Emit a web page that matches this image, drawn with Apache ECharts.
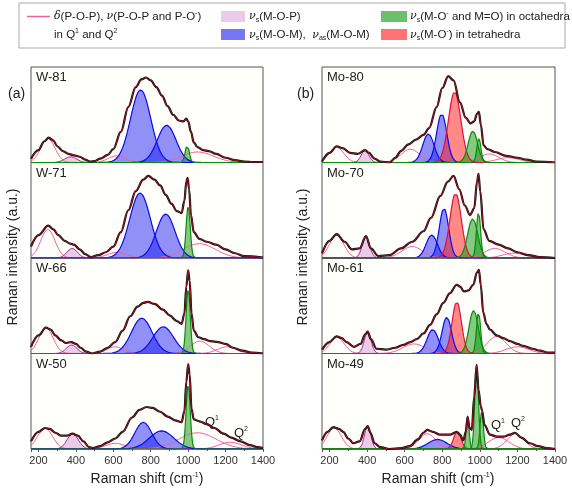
<!DOCTYPE html>
<html><head><meta charset="utf-8">
<script src="https://cdn.jsdelivr.net/npm/echarts@6/dist/echarts.min.js"></script>
<style>html,body{margin:0;padding:0;background:#fff}#c{width:572px;height:491px}</style>
</head><body><div id="c"></div>
<script>
// ---------- DATA ----------
const xMin = 160, xMax = 1400;
const sampleNames = ['W-81', 'W-71', 'W-66', 'W-50', 'Mo-80', 'Mo-70', 'Mo-61', 'Mo-49'];

// measured spectra: [Raman shift, relative intensity]
const W81_spectrum = [[160,0.04],[200,0.13],[230,0.22],[255,0.26],[280,0.23],[300,0.17],[330,0.12],[360,0.09],[390,0.075],[420,0.06],[450,0.03],[475,0.01],[500,0.015],[530,0.04],[570,0.08],[600,0.14],[640,0.32],[680,0.58],[720,0.79],[750,0.87],[775,0.89],[800,0.86],[830,0.79],[860,0.70],[890,0.59],[920,0.50],[950,0.44],[975,0.43],[990,0.46],[1000,0.43],[1015,0.32],[1030,0.21],[1050,0.16],[1080,0.13],[1110,0.12],[1150,0.09],[1200,0.05],[1250,0.025],[1300,0.01],[1350,0.005],[1400,0.005]];
const W71_spectrum = [[160,0.12],[200,0.24],[252,0.34],[280,0.30],[305,0.24],[340,0.18],[370,0.15],[390,0.14],[420,0.09],[450,0.04],[480,0.01],[520,0.03],[560,0.06],[600,0.12],[640,0.27],[680,0.50],[720,0.70],[760,0.82],[787,0.86],[820,0.82],[850,0.76],[880,0.66],[910,0.57],[940,0.49],[965,0.47],[980,0.60],[990,0.80],[997,0.84],[1005,0.72],[1015,0.45],[1030,0.27],[1060,0.20],[1100,0.17],[1150,0.14],[1200,0.09],[1250,0.05],[1300,0.02],[1400,0.005]];
const W66_spectrum = [[160,0.07],[200,0.19],[240,0.27],[265,0.25],[290,0.19],[320,0.14],[345,0.11],[375,0.12],[400,0.10],[425,0.06],[455,0.02],[485,0.0],[530,0.02],[570,0.06],[610,0.12],[650,0.24],[690,0.39],[730,0.49],[760,0.53],[785,0.54],[820,0.52],[865,0.46],[900,0.40],[940,0.34],[965,0.31],[980,0.42],[990,0.70],[1000,0.87],[1008,0.76],[1018,0.42],[1030,0.24],[1055,0.17],[1085,0.15],[1120,0.13],[1160,0.12],[1200,0.10],[1240,0.06],[1290,0.03],[1340,0.01],[1400,0.0]];
const W50_spectrum = [[160,0.08],[200,0.18],[235,0.22],[260,0.21],[290,0.17],[320,0.14],[350,0.14],[383,0.16],[410,0.14],[440,0.08],[470,0.02],[490,0.01],[530,0.03],[570,0.07],[610,0.11],[650,0.18],[700,0.33],[740,0.41],[778,0.44],[810,0.43],[850,0.39],[890,0.34],[930,0.30],[965,0.28],[980,0.40],[990,0.70],[1000,0.89],[1008,0.78],[1018,0.42],[1030,0.31],[1060,0.29],[1100,0.26],[1140,0.22],[1190,0.16],[1230,0.12],[1280,0.08],[1330,0.04],[1370,0.02],[1400,0.01]];
const Mo80_spectrum = [[160,0.01],[200,0.10],[238,0.17],[270,0.15],[310,0.10],[350,0.09],[389,0.13],[410,0.10],[440,0.04],[470,0.01],[520,0.0],[550,0.05],[580,0.12],[620,0.19],[660,0.24],[700,0.29],[730,0.36],[770,0.58],[800,0.78],[832,0.905],[860,0.86],[894,0.63],[925,0.47],[950,0.41],[970,0.43],[985,0.51],[995,0.53],[1005,0.40],[1020,0.18],[1040,0.14],[1080,0.11],[1140,0.07],[1200,0.05],[1250,0.03],[1300,0.01],[1400,0.0]];
const Mo70_spectrum = [[160,0.05],[200,0.18],[238,0.25],[280,0.17],[320,0.09],[360,0.10],[394,0.23],[420,0.10],[460,0.02],[520,0.03],[580,0.10],[640,0.17],[700,0.28],[740,0.42],[790,0.65],[830,0.80],[860,0.86],[890,0.72],[920,0.55],[948,0.45],[970,0.52],[985,0.80],[993,0.88],[1002,0.70],[1020,0.30],[1050,0.18],[1100,0.14],[1150,0.10],[1200,0.06],[1260,0.03],[1320,0.01],[1400,0.0]];
const Mo61_spectrum = [[160,0.04],[200,0.12],[238,0.18],[265,0.16],[291,0.12],[330,0.07],[365,0.10],[390,0.20],[403,0.23],[420,0.15],[450,0.05],[500,0.04],[550,0.06],[593,0.09],[630,0.12],[664,0.15],[700,0.21],[735,0.30],[770,0.41],[806,0.53],[840,0.63],[877,0.72],[895,0.70],[915,0.65],[940,0.66],[965,0.72],[985,0.85],[995,0.875],[1005,0.72],[1018,0.43],[1035,0.31],[1054,0.25],[1090,0.19],[1125,0.16],[1160,0.13],[1200,0.10],[1231,0.08],[1280,0.05],[1320,0.03],[1360,0.01],[1400,0.01]];
const Mo49_spectrum = [[160,0.09],[190,0.18],[220,0.23],[250,0.21],[273,0.18],[300,0.11],[327,0.06],[360,0.08],[390,0.21],[403,0.24],[418,0.17],[440,0.06],[470,0.02],[520,0.0],[580,0.01],[628,0.03],[670,0.10],[700,0.17],[720,0.20],[750,0.18],[788,0.15],[841,0.15],[877,0.18],[895,0.15],[912,0.09],[925,0.18],[935,0.34],[945,0.22],[957,0.20],[970,0.55],[983,0.88],[993,0.62],[1005,0.45],[1012,0.40],[1025,0.25],[1054,0.15],[1090,0.13],[1125,0.13],[1160,0.15],[1187,0.17],[1220,0.12],[1267,0.06],[1310,0.03],[1356,0.01],[1400,0.0]];

// fitted Gaussian bands: [band type, centre (cm-1), height, sigma (cm-1)]
// Q = delta(P-O-P), nu(P-O-P / P-O-) line; P = nu_s(M-O-P); B = nu(M-O-M); G = octahedra; R = tetrahedra
const W81_peaks = [['Q',250,0.25,38],['P',372,0.06,32],['Q',618,0.07,45],['B',746,0.76,54],['B',885,0.39,50],['G',995,0.18,11],['Q',1050,0.11,85]];
const W71_peaks = [['Q',250,0.30,38],['P',380,0.10,28],['Q',620,0.06,50],['B',743,0.68,55],['B',880,0.46,50],['G',1000,0.54,11],['Q',1060,0.15,85]];
const W66_peaks = [['Q',240,0.27,38],['P',377,0.09,28],['Q',610,0.07,45],['B',752,0.37,55],['B',867,0.28,55],['G',1000,0.67,11],['Q',1063,0.13,50],['Q',1206,0.07,50]];
const W50_peaks = [['Q',235,0.22,40],['P',383,0.16,30],['Q',610,0.06,50],['B',760,0.28,45],['B',858,0.19,65],['G',1000,0.67,11],['Q',1050,0.17,100],['Q',1225,0.07,60]];
const Mo80_peaks = [['Q',238,0.16,38],['P',389,0.13,20],['Q',630,0.14,50],['B',726,0.30,30],['B',797,0.51,27],['R',866,0.74,33],['G',963,0.33,25],['G',995,0.25,11],['Q',1050,0.09,50],['Q',1150,0.05,60]];
const Mo70_peaks = [['Q',238,0.24,38],['P',394,0.22,20],['Q',640,0.12,55],['B',744,0.24,30],['B',809,0.52,25],['R',871,0.68,30],['G',962,0.41,27],['G',993,0.48,11],['Q',1080,0.10,55],['Q',1180,0.05,60]];
const Mo61_peaks = [['Q',240,0.17,38],['P',403,0.23,18],['Q',650,0.10,60],['B',749,0.25,30],['B',824,0.38,25],['R',877,0.54,25],['G',967,0.45,25],['G',993,0.43,11],['Q',1090,0.18,50],['Q',1200,0.07,60]];
const Mo49_peaks = [['Q',225,0.22,38],['P',403,0.24,17],['Q',720,0.16,45],['B',775,0.10,50],['R',880,0.18,20],['G',935,0.34,8],['G',983,0.85,10],['G',1010,0.39,9],['Q',1100,0.12,55],['Q',1190,0.16,45]];

const spectra = [W81_spectrum, W71_spectrum, W66_spectrum, W50_spectrum, Mo80_spectrum, Mo70_spectrum, Mo61_spectrum, Mo49_spectrum];
const peakSets = [W81_peaks, W71_peaks, W66_peaks, W50_peaks, Mo80_peaks, Mo70_peaks, Mo61_peaks, Mo49_peaks];

// ---------- STYLE ----------
const FONT = '"Liberation Sans", Arial, sans-serif';
const bandStyle = {
  Q: { line: '#f0609e', width: 1, fill: null },
  P: { line: '#a0309a', width: 1, fill: 'rgba(200,120,200,0.38)' },
  B: { line: '#0a0aee', width: 1.2, fill: 'rgba(20,20,240,0.47)' },
  G: { line: '#0a8a0a', width: 1.2, fill: 'rgba(10,150,10,0.5)' },
  R: { line: '#e0103c', width: 1.2, fill: 'rgba(255,20,20,0.5)' }
};
const bandOrder = ['Q', 'P', 'B', 'R', 'G'];

function bandCurve(c, h, s) {
  const pts = [];
  for (let x = xMin; x <= xMax; x += 2) {
    pts.push([x, h * Math.exp(-((x - c) * (x - c)) / (2 * s * s))]);
  }
  return pts;
}

const panelLeft = [31, 322], panelWidth = [232, 233];
const rowTop = [67, 162.5, 258, 353.5], rowH = 95.5;

const grids = [], xAxes = [], yAxes = [], series = [];
for (let i = 0; i < 8; i++) {
  const p = i < 4 ? 0 : 1, r = i % 4;
  const bottom = r === 3;
  grids.push({ left: panelLeft[p], top: rowTop[r], width: panelWidth[p], height: rowH,
    show: true, borderColor: '#555', borderWidth: 1, backgroundColor: '#fffffb' });
  xAxes.push({ gridIndex: i, type: 'value', min: xMin, max: xMax, splitNumber: 6,
    axisLine: { show: false }, splitLine: { show: false },
    axisTick: { show: bottom, length: 3, lineStyle: { color: '#555' } },
    minorTick: { show: bottom, splitNumber: 2, length: 2, lineStyle: { color: '#555' } },
    axisLabel: { show: bottom, showMinLabel: false, fontSize: 11, color: '#333', margin: 6, fontFamily: FONT,
      formatter: v => String(v) } });
  yAxes.push({ gridIndex: i, type: 'value', min: 0, max: 1, show: false });

  const peaks = peakSets[i].slice().sort((a, b) => bandOrder.indexOf(a[0]) - bandOrder.indexOf(b[0]));
  peaks.forEach(pk => {
    const st = bandStyle[pk[0]];
    const s = { type: 'line', xAxisIndex: i, yAxisIndex: i, data: bandCurve(pk[1], pk[2], pk[3]),
      symbol: 'none', silent: true, animation: false, clip: true,
      lineStyle: { color: st.line, width: st.width } };
    if (st.fill) s.areaStyle = { color: st.fill, opacity: 1 };
    series.push(s);
  });
  series.push({ type: 'line', xAxisIndex: i, yAxisIndex: i, data: spectra[i], symbol: 'none',
    smooth: 0.35, smoothMonotone: 'x', silent: true, animation: false,
    lineStyle: { color: '#111', width: 2.2 } });
  series.push({ type: 'line', xAxisIndex: i, yAxisIndex: i, data: spectra[i], symbol: 'none',
    smooth: 0.35, smoothMonotone: 'x', silent: true, animation: false,
    lineStyle: { color: '#c8102e', width: 0.8 } });
}

const rich = {
  it: { fontStyle: 'italic', fontSize: 11, fontFamily: 'DejaVu Serif, serif' },
  sub: { fontSize: 7, padding: [7, 0, 0, 0], fontFamily: FONT },
  sup: { fontSize: 7, padding: [0, 0, 7, 0], fontFamily: FONT }
};
function txt(x, y, text, styleExtra, props) {
  const style = Object.assign({ text: text, fontSize: 11.5, fontFamily: FONT, fill: '#222', rich: rich,
    verticalAlign: 'middle', align: 'left' }, styleExtra || {});
  return Object.assign({ type: 'text', x: x, y: y, silent: true, style: style }, props || {});
}

const graphics = [
  { type: 'rect', shape: { x: 19, y: 3, width: 546, height: 45 }, style: { fill: '#fff', stroke: '#aaa', lineWidth: 1 } },
  { type: 'line', shape: { x1: 27, y1: 16.5, x2: 50, y2: 16.5 }, style: { stroke: '#f0609e', lineWidth: 1.5 } },
  txt(54, 16.5, '{it|δ}(P-O-P), {it|ν}(P-O-P and P-O{sup|-})'),
  txt(54, 35, 'in Q{sup|1} and Q{sup|2}'),
  { type: 'rect', shape: { x: 221, y: 11, width: 24, height: 11 }, style: { fill: 'rgba(200,120,200,0.38)' } },
  txt(249, 16.5, '{it|ν}{sub|s}(M-O-P)'),
  { type: 'rect', shape: { x: 221, y: 29, width: 24, height: 11 }, style: { fill: 'rgba(60,60,240,0.7)' } },
  txt(249, 35, '{it|ν}{sub|s}(M-O-M),  {it|ν}{sub|as}(M-O-M)'),
  { type: 'rect', shape: { x: 381, y: 11, width: 26, height: 11 }, style: { fill: 'rgba(10,150,10,0.6)' } },
  txt(410, 16.5, '{it|ν}{sub|s}(M-O{sup|-} and M=O) in octahedra'),
  { type: 'rect', shape: { x: 381, y: 29, width: 26, height: 11 }, style: { fill: 'rgba(255,40,40,0.65)' } },
  txt(410, 35, '{it|ν}{sub|s}(M-O{sup|-}) in tetrahedra'),
  txt(8, 94, '(a)', { fontSize: 14 }),
  txt(297, 94, '(b)', { fontSize: 14 }),
  txt(13, 257, 'Raman intensity (a.u.)', { fontSize: 14, align: 'center' }, { rotation: Math.PI / 2 }),
  txt(303, 257, 'Raman intensity (a.u.)', { fontSize: 14, align: 'center' }, { rotation: Math.PI / 2 }),
  txt(147, 479, 'Raman shift (cm{sup|-1})', { fontSize: 14, align: 'center' }),
  txt(438, 479, 'Raman shift (cm{sup|-1})', { fontSize: 14, align: 'center' }),
  txt(205, 422, 'Q{sup|1}', { fontSize: 13 }),
  txt(234, 433, 'Q{sup|2}', { fontSize: 13 }),
  txt(491, 425, 'Q{sup|1}', { fontSize: 13 }),
  txt(511, 423, 'Q{sup|2}', { fontSize: 13 })
];
for (let i = 0; i < 8; i++) {
  const p = i < 4 ? 0 : 1, r = i % 4;
  graphics.push(txt(panelLeft[p] + 5, rowTop[r] + 10.5, sampleNames[i], { fontSize: 13 }));
}

const chart = echarts.init(document.getElementById('c'), null, { renderer: 'canvas' });
chart.setOption({
  animation: false,
  backgroundColor: '#fff',
  grid: grids, xAxis: xAxes, yAxis: yAxes, series: series,
  graphic: { elements: graphics }
});
</script></body></html>
